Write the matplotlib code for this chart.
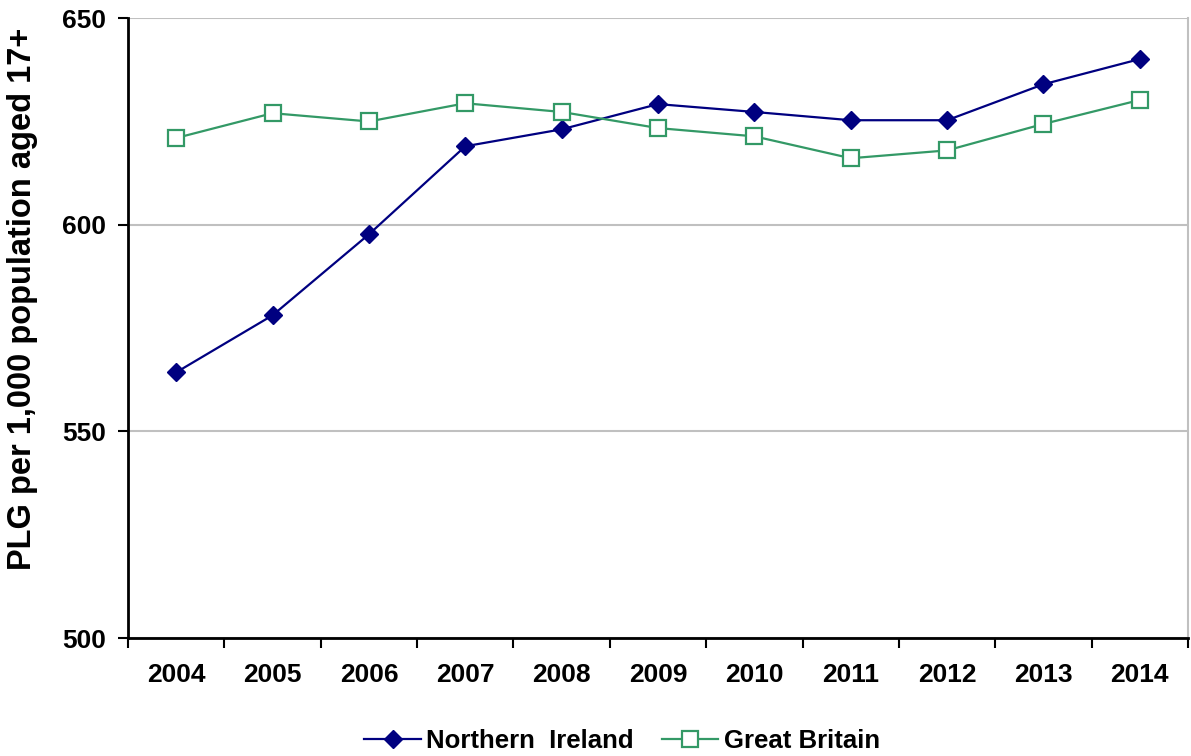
import numpy as np
import matplotlib.pyplot as plt

plt.rcParams['font.family'] = ['Liberation Sans', 'DejaVu Sans']
plt.rcParams['font.weight'] = 'bold'

years = ['2004', '2005', '2006', '2007', '2008', '2009', '2010',
         '2011', '2012', '2013', '2014']
northern_ireland = [564.3, 578.1, 597.7, 619.0, 623.1, 629.2, 627.3,
                    625.3, 625.3, 634.0, 640.1]
great_britain = [621.0, 627.0, 625.0, 629.4, 627.3, 623.4, 621.4,
                 616.1, 618.0, 624.4, 630.2]

fig = plt.figure(figsize=(11.91, 7.56), dpi=100)
ax = fig.add_axes([0.1075, 0.156, 0.89, 0.82])

x = np.arange(len(years))
ax.plot(x, northern_ireland, color='#000080', lw=1.6, marker='D',
        ms=9, mfc='#000080', mec='#000080', label='Northern  Ireland',
        zorder=3)
ax.plot(x, great_britain, color='#339966', lw=1.6, marker='s',
        ms=11, mfc='white', mec='#339966', mew=1.6, label='Great Britain',
        zorder=3)

ax.set_xlim(-0.5, len(years) - 0.5)
ax.set_ylim(500, 650)
ax.set_yticks([500, 550, 600, 650])
ax.yaxis.grid(True, color='#c0c0c0', lw=1.5)
ax.set_axisbelow(True)

# category labels centred, tick marks on the boundaries
ax.set_xticks(x)
ax.set_xticklabels(years)
ax.set_xticks(np.arange(-0.5, len(years)), minor=True)
ax.tick_params(axis='x', which='major', length=0, pad=18, labelsize=19)
ax.tick_params(axis='x', which='minor', length=7, width=1.5, direction='out')
ax.tick_params(axis='y', length=7, width=1.5, direction='out', labelsize=19,
               pad=9)

for side in ['left', 'bottom']:
    ax.spines[side].set_linewidth(2)
    ax.spines[side].set_color('black')
ax.spines['top'].set_visible(False)
ax.spines['right'].set_color('#c0c0c0')
ax.spines['right'].set_linewidth(1.5)

ax.set_ylabel('PLG per 1,000 population aged 17+', fontsize=23.5,
              fontweight='bold')
ax.yaxis.set_label_coords(-0.085, 0.547)

fig.legend(*ax.get_legend_handles_labels(), loc='center',
           bbox_to_anchor=(0.1075 + 0.89 * 0.466, 0.02), ncol=2,
           frameon=False, fontsize=18.5, handlelength=2.2, numpoints=1,
           columnspacing=1.1, handletextpad=0.2)

fig.savefig('out.png', dpi=100)
